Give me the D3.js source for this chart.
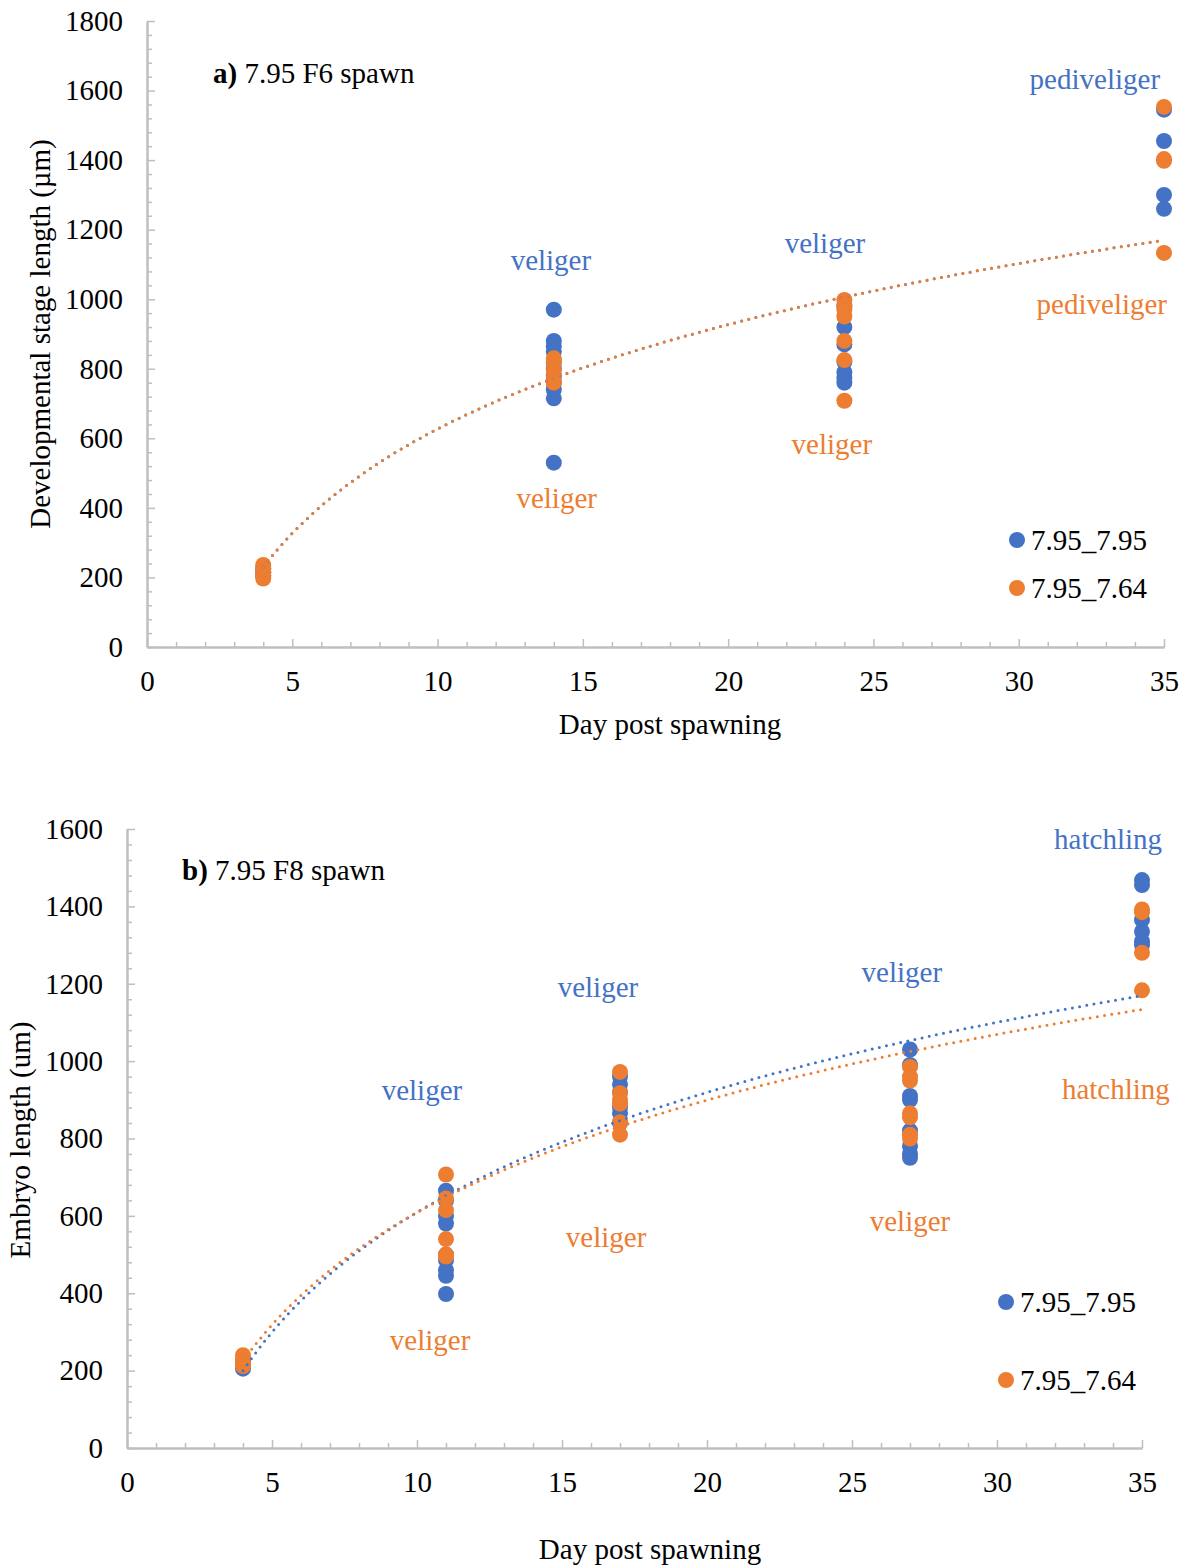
<!DOCTYPE html>
<html>
<head>
<meta charset="utf-8">
<script src="https://cdn.jsdelivr.net/npm/d3@7"></script>
<style>
  body { margin: 0; background: #fff; }
  svg { display: block; font-family: "Liberation Serif", "Times New Roman", serif; }
</style>
</head>
<body>
<svg id="chart" width="1195" height="1566"></svg>
<script>
// ---------------- DATA ----------------
// Panel a) 7.95 F6 spawn
const daysA = [4, 14, 24, 35];
const blueA = [
  [205, 215, 225],
  [970, 880, 865, 850, 820, 800, 780, 760, 740, 715, 530],
  [980, 920, 870, 820, 790, 775, 760],
  [1545, 1455, 1300, 1260]
];
const orangeA = [
  [197, 205, 215, 225, 236],
  [830, 815, 795, 775, 760],
  [998, 985, 970, 950, 880, 825, 708],
  [1553, 1403, 1398, 1133]
];
// log trend y = a*ln(x) + b
const trendBlueA = [433, -370];
const trendOrangeA = [433, -370];
const yTicksA = [0, 200, 400, 600, 800, 1000, 1200, 1400, 1600, 1800];

// Panel b) 7.95 F8 spawn
const daysB = [4, 11, 17, 27, 35];
const blueB = [
  [205, 220],
  [665, 640, 600, 580, 500, 485, 460, 445, 398],
  [960, 940, 920, 880, 865, 840],
  [1030, 990, 910, 900, 820, 780, 760, 750],
  [1468, 1455, 1365, 1335, 1310, 1300]
];
const orangeB = [
  [212, 222, 232, 240],
  [707, 645, 615, 540, 500, 495],
  [972, 917, 900, 890, 842, 810],
  [985, 960, 950, 865, 855, 810, 800],
  [1392, 1385, 1280, 1183]
];
const trendBlueB = [447, -420];
const trendOrangeB = [419, -356];
const yTicksB = [0, 200, 400, 600, 800, 1000, 1200, 1400, 1600];

const xTicks = [0, 5, 10, 15, 20, 25, 30, 35];
const seriesNames = ["7.95_7.95", "7.95_7.64"];

// stage annotations (text, day, value, series index)
const stagesA = [
  ["veliger", 13.9, 1113, 0], ["veliger", 14.1, 428, 1],
  ["veliger", 23.33, 1162, 0], ["veliger", 23.57, 584, 1],
  ["pediveliger", 32.62, 1633, 0], ["pediveliger", 32.86, 986, 1]
];
const stagesB = [
  ["veliger", 10.17, 925, 0], ["veliger", 10.45, 279, 1],
  ["veliger", 16.24, 1191, 0], ["veliger", 16.52, 545, 1],
  ["veliger", 26.72, 1230, 0], ["veliger", 27.0, 587, 1],
  ["hatchling", 33.83, 1574, 0], ["hatchling", 34.10, 928, 1]
];

// ---------------- DRAWING ----------------
const COLORS = ["#4472C4", "#ED7D31"];
const AXIS_COLOR = "#BFBFBF";
const FS = "29px";
const svg = d3.select("#chart");

function panel(cfg) {
  const g = svg.append("g");
  const x = d3.scaleLinear().domain([0, 35]).range([cfg.left, cfg.right]);
  const y = d3.scaleLinear().domain([0, cfg.yMax]).range([cfg.bottom, cfg.top]);

  const yMinor = d3.range(0, cfg.yMax + 1, 40).filter(v => v % 200 !== 0);
  const xMinor = d3.range(0, 36, 1).filter(v => v % 5 !== 0);

  const axStyle = sel => {
    sel.select(".domain").attr("stroke", AXIS_COLOR).attr("stroke-width", 2);
    sel.selectAll(".tick line").attr("stroke", AXIS_COLOR).attr("stroke-width", 1.5);
    sel.selectAll("text").attr("fill", "#000").style("font-size", FS)
      .style("font-family", '"Liberation Serif", "Times New Roman", serif');
  };

  g.append("g").attr("transform", `translate(${cfg.left},0)`)
    .call(d3.axisLeft(y).tickValues(yMinor).tickSizeInner(-5).tickSizeOuter(0).tickFormat(""))
    .call(axStyle);
  g.append("g").attr("transform", `translate(0,${cfg.bottom})`)
    .call(d3.axisBottom(x).tickValues(xMinor).tickSizeInner(-5).tickSizeOuter(0).tickFormat(""))
    .call(axStyle);
  g.append("g").attr("transform", `translate(${cfg.left},0)`)
    .call(d3.axisLeft(y).tickValues(cfg.yTicks).tickSizeInner(-8).tickSizeOuter(0).tickPadding(24).tickFormat(d3.format("d")))
    .call(axStyle);
  g.append("g").attr("transform", `translate(0,${cfg.bottom})`)
    .call(d3.axisBottom(x).tickValues(xTicks).tickSizeInner(-8).tickSizeOuter(0).tickPadding(23).tickFormat(d3.format("d")))
    .call(axStyle);

  [cfg.blue, cfg.orange].forEach((ser, si) => {
    const pts = [];
    ser.forEach((vals, di) => vals.forEach(v => pts.push([cfg.days[di], v])));
    g.append("g").selectAll("circle").data(pts).join("circle")
      .attr("cx", d => x(d[0])).attr("cy", d => y(d[1])).attr("r", 8)
      .attr("fill", COLORS[si]);
  });

  const xs = d3.range(4, 35.001, 0.25);
  [cfg.trendBlue, cfg.trendOrange].forEach((t, si) => {
    const line = d3.line().x(d => x(d)).y(d => y(t[0] * Math.log(d) + t[1]));
    g.append("path").datum(xs).attr("d", line)
      .attr("fill", "none").attr("stroke", COLORS[si]).attr("stroke-width", 3)
      .attr("stroke-linecap", "round").attr("stroke-dasharray", "0 7.3");
  });

  g.append("g").selectAll("text").data(cfg.stages).join("text")
    .attr("x", d => x(d[1])).attr("y", d => y(d[2]))
    .attr("text-anchor", "middle").attr("dominant-baseline", "central")
    .attr("fill", d => COLORS[d[3]]).style("font-size", FS).text(d => d[0]);

  const t = g.append("text").attr("x", cfg.titleX).attr("y", cfg.titleY)
    .attr("dominant-baseline", "central").style("font-size", FS).attr("fill", "#000");
  t.append("tspan").attr("font-weight", "bold").text(cfg.titleBold);
  t.append("tspan").text(cfg.titleRest);

  g.append("text").attr("x", cfg.xTitleX).attr("y", cfg.xTitleY)
    .attr("text-anchor", "middle").attr("dominant-baseline", "central")
    .style("font-size", FS).text("Day post spawning");
  g.append("text").attr("transform", `translate(${cfg.yTitleX},${cfg.yTitleY}) rotate(-90)`)
    .attr("text-anchor", "middle").attr("dominant-baseline", "central")
    .style("font-size", FS).text(cfg.yTitle);

  seriesNames.forEach((n, i) => {
    g.append("circle").attr("cx", cfg.legX).attr("cy", cfg.legY[i]).attr("r", 8).attr("fill", COLORS[i]);
    g.append("text").attr("x", cfg.legX + 14).attr("y", cfg.legY[i])
      .attr("dominant-baseline", "central").style("font-size", FS).text(n);
  });
}

panel({
  left: 147, right: 1164, top: 21, bottom: 647, yMax: 1800, yTicks: yTicksA,
  days: daysA, blue: blueA, orange: orangeA,
  trendBlue: trendBlueA, trendOrange: trendOrangeA, stages: stagesA,
  titleX: 213, titleY: 73, titleBold: "a)", titleRest: " 7.95 F6 spawn",
  xTitleX: 670, xTitleY: 724, yTitleX: 40, yTitleY: 334,
  yTitle: "Developmental stage length (µm)",
  legX: 1017, legY: [540, 588]
});

panel({
  left: 127, right: 1142, top: 829, bottom: 1448, yMax: 1600, yTicks: yTicksB,
  days: daysB, blue: blueB, orange: orangeB,
  trendBlue: trendBlueB, trendOrange: trendOrangeB, stages: stagesB,
  titleX: 182, titleY: 870, titleBold: "b)", titleRest: " 7.95 F8 spawn",
  xTitleX: 650, xTitleY: 1549, yTitleX: 20, yTitleY: 1140,
  yTitle: "Embryo length (um)",
  legX: 1006, legY: [1302, 1380]
});
</script>
</body>
</html>
